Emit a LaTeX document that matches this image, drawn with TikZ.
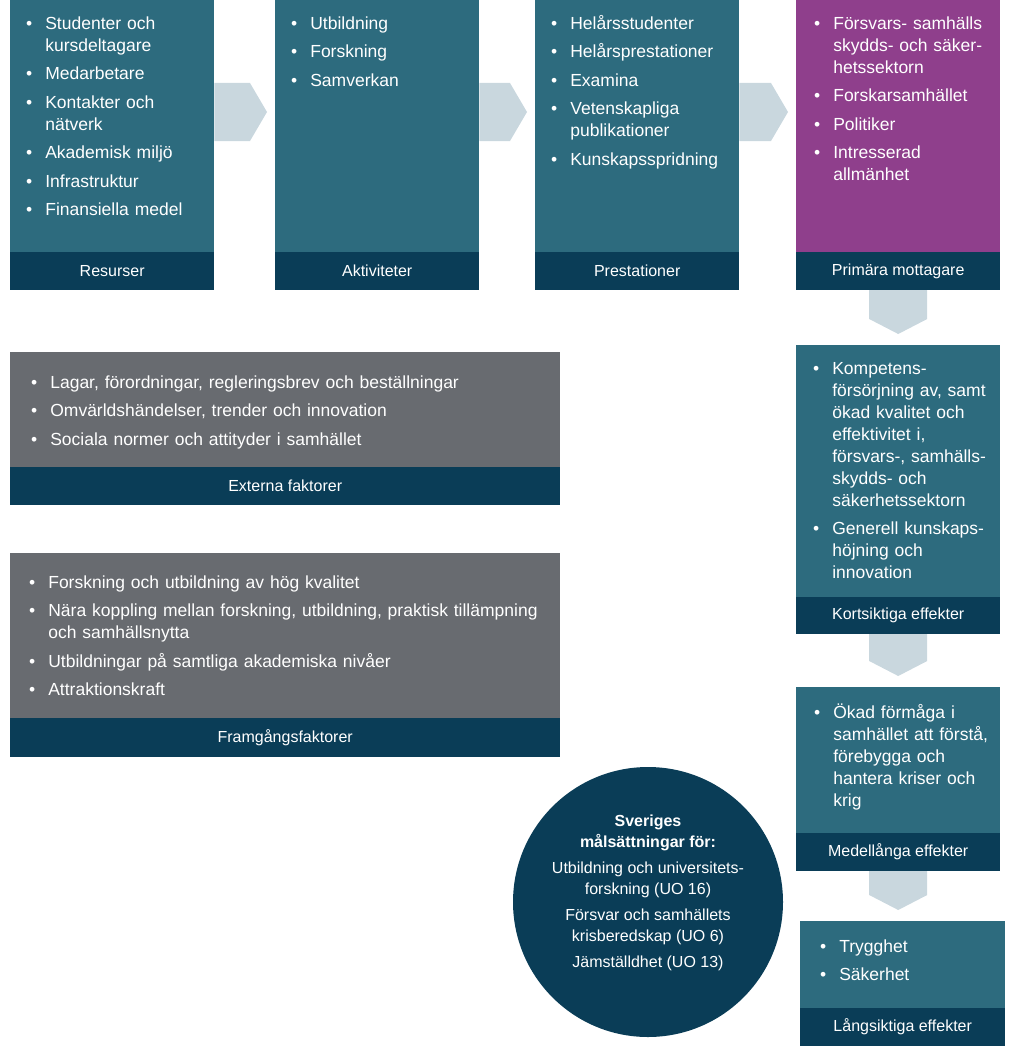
\documentclass[tikz,border=0pt]{standalone}
\usepackage{fontspec}
\setmainfont{Liberation Sans}
\usetikzlibrary{positioning,calc}
\definecolor{fhsPetrol}{HTML}{2D6B7E}
\definecolor{fhsMork}{HTML}{0A3D57}
\definecolor{fhsLila}{HTML}{8F3F8C}
\definecolor{fhsGra}{HTML}{686B70}
\definecolor{fhsPil}{HTML}{C9D7DE}
\newcommand{\punktfont}{\fontsize{17.5}{22}\selectfont}
\newcommand{\fotfont}{\fontsize{16}{18}\selectfont}
\newcommand{\malfont}{\fontsize{16}{21}\selectfont}
\newcommand{\punkter}[1]{\begin{tabular}[t]{@{}l@{\hspace{13pt}}l@{}}#1\end{tabular}}
\newcommand{\nasta}{\\[6.5pt]}
\tikzset{
  ruta/.style={rectangle, fill=fhsPetrol, text=white, anchor=north west,
    inner xsep=16pt, inner ysep=0pt, text width=172pt, align=left,
    font=\punktfont, text height=29pt, text depth=223pt},
  rutaGra/.style={ruta, fill=fhsGra, inner xsep=21pt, text width=508pt},
  sidfot/.style={rectangle, fill=fhsMork, text=white, minimum width=204pt,
    minimum height=38pt, inner sep=0pt, font=\fotfont},
  mal/.style={circle, fill=fhsMork, text=white, minimum size=270pt,
    inner sep=0pt, align=center, font=\malfont},
  pil/.style={fill=fhsPil},
}

\begin{document}
\begin{tikzpicture}[x=1pt, y=-1pt]
    \useasboundingbox (0,0) rectangle (1024,1046);
    \node[ruta] (res) at (10,0) {\punkter{\textbullet & Studenter och\\ & kursdeltagare\nasta
      \textbullet & Medarbetare\nasta
      \textbullet & Kontakter och\\ & nätverk\nasta
      \textbullet & Akademisk miljö\nasta
      \textbullet & Infrastruktur\nasta
      \textbullet & Finansiella medel}};
    \node[ruta] (akt) at (275,0) {\punkter{\textbullet & Utbildning\nasta
      \textbullet & Forskning\nasta
      \textbullet & Samverkan}};
    \node[ruta] (pre) at (535,0) {\punkter{\textbullet & Helårsstudenter\nasta
      \textbullet & Helårsprestationer\nasta
      \textbullet & Examina\nasta
      \textbullet & Vetenskapliga\\ & publikationer\nasta
      \textbullet & Kunskapsspridning}};
    \node[ruta, fill=fhsLila, inner xsep=18pt, text width=168pt] (mot) at (796,0)
      {\punkter{\textbullet & Försvars- samhälls\\ & skydds- och säker-\\ & hetssektorn\nasta
      \textbullet & Forskarsamhället\nasta
      \textbullet & Politiker\nasta
      \textbullet & Intresserad\\ & allmänhet}};
    \node[sidfot, below=-0.6pt of res] (resF) {Resurser};
    \node[sidfot, below=-0.6pt of akt] (aktF) {Aktiviteter};
    \node[sidfot, below=-0.6pt of pre] (preF) {Prestationer};
    \node[sidfot, below=-0.6pt of mot] (motF) {Primära mottagare};

    \node[ruta, inner xsep=17pt, text width=170pt] (kort) at (796,345)
      {\punkter{\textbullet & Kompetens-\\ & försörjning av, samt\\ & ökad kvalitet och\\ & effektivitet i,\\
        & försvars-, samhälls-\\ & skydds- och\\ & säkerhetssektorn\nasta
      \textbullet & Generell kunskaps-\\ & höjning och\\ & innovation}};
    \node[sidfot, minimum height=37pt, below=-0.6pt of kort] (kortF) {Kortsiktiga effekter};
    \node[ruta, inner xsep=18pt, text width=168pt, text height=31pt, text depth=115pt] (medel) at (796,687)
      {\punkter{\textbullet & Ökad förmåga i\\ & samhället att förstå,\\ & förebygga och\\ & hantera kriser och\\ & krig}};
    \node[sidfot, below=-0.6pt of medel] (medelF) {Medellånga effekter};
    \node[ruta, inner xsep=20pt, text width=165pt, text height=31pt, text depth=56pt] (lang) at (800,921)
      {\punkter{\textbullet & Trygghet\nasta
      \textbullet & Säkerhet}};
    \node[sidfot, minimum width=205pt, below=-0.6pt of lang] (langF) {Långsiktiga effekter};

    \node[rutaGra, text height=36pt, text depth=79pt] (ext) at (10,352)
      {\punkter{\textbullet & Lagar, förordningar, regleringsbrev och beställningar\nasta
      \textbullet & Omvärldshändelser, trender och innovation\nasta
      \textbullet & Sociala normer och attityder i samhället}};
    \node[sidfot, minimum width=550pt, below=-0.6pt of ext] (extF) {Externa faktorer};
    \node[rutaGra, inner xsep=19pt, text width=512pt, text height=35pt, text depth=130pt] (fram) at (10,553)
      {\punkter{\textbullet & Forskning och utbildning av hög kvalitet\nasta
      \textbullet & Nära koppling mellan forskning, utbildning, praktisk tillämpning\\ & och samhällsnytta\nasta
      \textbullet & Utbildningar på samtliga akademiska nivåer\nasta
      \textbullet & Attraktionskraft}};
    \node[sidfot, minimum width=550pt, minimum height=39pt, below=-0.6pt of fram] (framF) {Framgångsfaktorer};

    \node[mal] (mal) at (648,902) {\textbf{Sveriges}\\ \textbf{målsättningar för:}\\[5pt]
      Utbildning och universitets-\\ forskning (UO 16)\\[5pt]
      Försvar och samhällets\\ krisberedskap (UO 6)\\[5pt]
      Jämställdhet (UO 13)\rule[-22pt]{0pt}{22pt}};

    \foreach \a/\b in {res/akt,akt/pre,pre/mot}{
      \fill[pil] ($(\a.north east)+(0,83)$) -- ($(\b.north west)+(-25,83)$) -- ($(\b.north west)+(-8,112)$)
        -- ($(\b.north west)+(-25,141)$) -- ($(\a.north east)+(0,141)$) -- cycle;}
    \foreach \a/\b in {motF/kort,kortF/medel,medelF/lang}{
      \fill[pil] ($(\a.south)+(-29,0)$) -- ($(\a.south |- \b.north)+(-29,-26)$) -- ($(\a.south |- \b.north)+(0,-11)$)
        -- ($(\a.south |- \b.north)+(29,-26)$) -- ($(\a.south)+(29,0)$) -- cycle;}
  \end{tikzpicture}
\end{document}
